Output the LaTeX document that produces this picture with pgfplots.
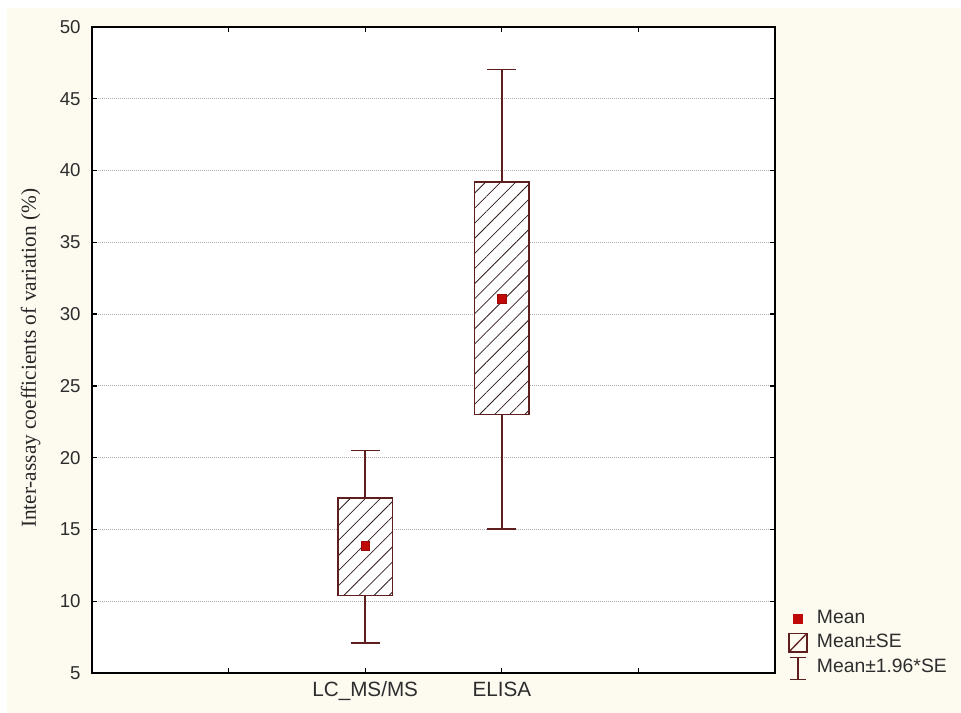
\documentclass[border=0pt]{standalone}
\usepackage{pgfplots}
\pgfplotsset{compat=1.18}
\usepackage{fontspec}
\setmainfont{Liberation Sans}
\newfontfamily\seriffont{Liberation Serif}
\usetikzlibrary{patterns.meta}
\definecolor{bgcream}{RGB}{253,250,240}
\definecolor{boxc}{RGB}{95,30,30}
\definecolor{hatchc}{RGB}{50,30,30}
\definecolor{meanred}{RGB}{192,10,10}
\definecolor{tickgray}{RGB}{45,45,45}
\begin{document}
\begin{tikzpicture}[x=1pt,y=1pt]
\fill[white] (-69,-30) rectangle (651.75,504.75);
\fill[bgcream] (-63.75,-30) rectangle (651.75,498.75);
\begin{axis}[
  at={(0,0)}, anchor=south west,
  scale only axis, width=512.25pt, height=484.5pt,
  xmin=0, xmax=5, ymin=5, ymax=50,
  xtick={1,2,3,4}, xticklabels={,LC\_MS/MS,ELISA,},
  ytick={5,10,...,50},
  tick align=inside, major tick length=3.5pt,
  axis line style={line width=1.2pt, black},
  every tick/.style={black, line width=1pt},
  ymajorgrids,
  grid style={gray!65, dash pattern=on 0.75pt off 0.75pt, line width=0.6pt},
  axis background/.style={fill=white},
  /pgf/number format/assume math mode=true,
  yticklabel style={font=\fontsize{14}{16}\selectfont, text=tickgray, xshift=-5pt},
  xticklabel style={font=\fontsize{15.5}{18}\selectfont, text=tickgray, yshift=-3pt},
  ylabel={\seriffont Inter-assay coefficients of variation (\%)},
  ylabel style={at={(axis description cs:-0.0898,0.487)}, anchor=center, font=\fontsize{16}{19}\selectfont, text=black!85},
  unbounded coords=jump,
  legend style={at={(axis description cs:1.019,0.10)}, anchor=north west, draw=none, fill=none,
    font=\fontsize{14.5}{17}\selectfont, text=tickgray, row sep=3pt, column sep=6pt, inner sep=0pt,
    nodes={inner sep=1pt, text height=10pt, text depth=3pt}},
  legend cell align=left,
]
\addlegendimage{legend image code/.code={\fill[meanred] (3pt,-3.2pt) rectangle (9.4pt,3.2pt);}}
\addlegendentry{Mean}
\addlegendimage{legend image code/.code={\draw[boxc, line width=1pt] (-0.5pt,-7pt) rectangle (13pt,7pt); \draw[boxc, line width=1pt] (-0.5pt,-7pt) -- (13pt,7pt);}}
\addlegendentry{Mean±SE}
\addlegendimage{legend image code/.code={\draw[boxc, line width=1pt] (0pt,8pt) -- (12.5pt,8pt) (6.25pt,8pt) -- (6.25pt,-8.5pt) (0pt,-8.5pt) -- (12.5pt,-8.5pt);}}
\addlegendentry{Mean±1.96*SE}

% whiskers (Mean +/- 1.96 SE)
\addplot[forget plot, boxc, line width=1.25pt] table {
x y
2 17.2
2 20.5
nan nan
1.895 20.5
2.105 20.5
nan nan
2 10.4
2 7.08
nan nan
1.895 7.08
2.105 7.08
nan nan
3 39.2
3 47.03
nan nan
2.895 47.03
3.105 47.03
nan nan
3 23.0
3 15.02
nan nan
2.895 15.02
3.105 15.02
};
% boxes (Mean +/- SE)
\addplot[forget plot, draw=boxc, line width=1.2pt, fill=white,
  postaction={pattern={Lines[angle=45,distance=8pt,line width=0.6pt]}, pattern color=hatchc}]
  coordinates {(1.8,10.4) (2.2,10.4) (2.2,17.2) (1.8,17.2)} -- cycle;
\addplot[forget plot, draw=boxc, line width=1.2pt, fill=white,
  postaction={pattern={Lines[angle=45,distance=8pt,line width=0.6pt]}, pattern color=hatchc}]
  coordinates {(2.8,23.0) (3.2,23.0) (3.2,39.2) (2.8,39.2)} -- cycle;
% means
\addplot[forget plot, only marks, mark=square*, mark size=3.3pt, mark options={fill=meanred, draw=meanred!80!black, line width=0.4pt}] coordinates {(2,13.86) (3,31.06)};
\end{axis}
\end{tikzpicture}
\end{document}
